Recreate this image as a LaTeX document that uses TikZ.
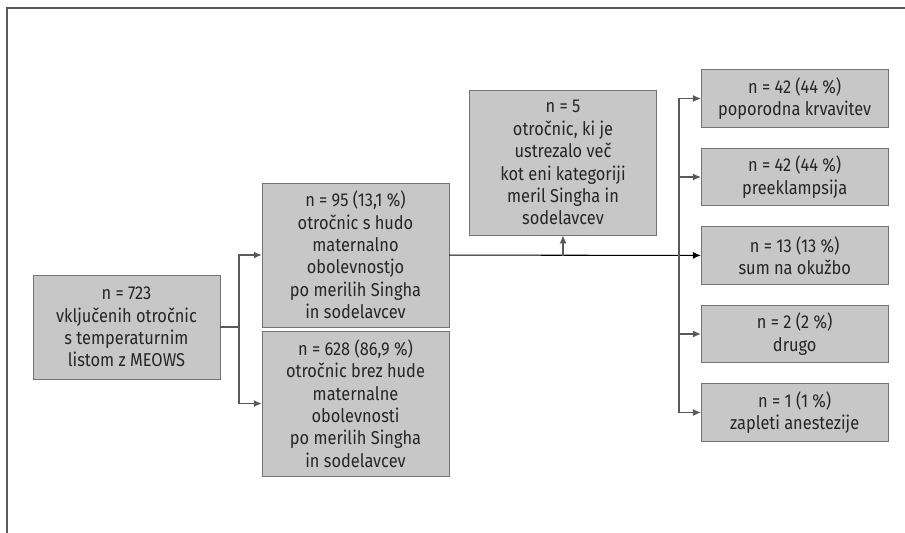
\documentclass[tikz,border=0pt]{standalone}
\usepackage{fontspec}
\setmainfont{Fira Sans}[FakeStretch=0.88]
\usetikzlibrary{arrows.meta}

\begin{document}
\begin{tikzpicture}[x=0.02cm,y=-0.02cm,
  box/.style={draw=black!55,fill=black!22,text=black!85,minimum width=3.74cm,align=center,inner sep=1pt,font=\fontsize{10.6}{12.75}\selectfont},
  con/.style={draw=black!65,line width=0.6pt,-{Latex[length=4.5pt,width=4pt]}}]
 \useasboundingbox (0,0) rectangle (905,532);
 \draw[black!65,thick] (7,545)--(7,8)--(915,8); %okvir
 \node[box,minimum height=2.08cm] (root) at (126.5,327) {n = 723\\vključenih otročnic\\s temperaturnim\\listom z MEOWS};
 \node[box,minimum height=2.88cm] (hudo) at (355.5,255) {n = 95 (13,1 \%)\\otročnic s hudo\\maternalno\\obolevnostjo\\po merilih Singha\\in sodelavcev};
 \node[box,minimum height=2.9cm] (brez) at (355.5,403.5) {n = 628 (86,9 \%)\\otročnic brez hude\\maternalne\\obolevnosti\\po merilih Singha\\in sodelavcev};
 \node[box,minimum height=2.9cm] (vec) at (563,162.7) {n = 5\\otročnic, ki je\\ustrezalo več\\kot eni kategoriji\\meril Singha in\\sodelavcev};
 \node[box,minimum height=1.15cm] (r1) at (794.7,98.5) {n = 42 (44 \%)\\poporodna krvavitev};
 \node[box,minimum height=1.15cm] (r2) at (794.7,177) {n = 42 (44 \%)\\preeklampsija};
 \node[box,minimum height=1.15cm] (r3) at (794.7,255.5) {n = 13 (13 \%)\\sum na okužbo};
 \node[box,minimum height=1.15cm] (r4) at (794.7,334) {n = 2 (2 \%)\\drugo};
 \node[box,minimum height=1.15cm] (r5) at (794.7,412.5) {n = 1 (1 \%)\\zapleti anestezije};
 \coordinate (s1) at (239,327); %razcep levo
 \coordinate (s2) at (679,255.5); %razcep desno
 \coordinate (up) at (563,255.5); %puscica gor
 \draw[black!65,line width=0.6pt] (root)--(s1);
 \draw[con] (s1) |- (hudo);
 \draw[con] (s1) |- (brez);
 \draw[con,draw=black] (hudo)--(r3);
 \draw[con] (up)--(vec);
 \draw[con] (s2) |- (r1);
 \draw[con] (s2) |- (r2);
 \draw[con] (s2) |- (r4);
 \draw[con] (s2) |- (r5);
\end{tikzpicture}
\end{document}
